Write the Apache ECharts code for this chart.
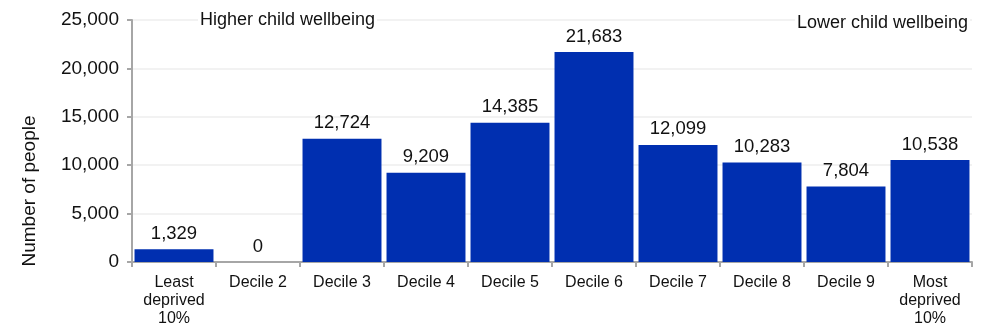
<!DOCTYPE html>
<html>
<head>
<meta charset="utf-8">
<script src="https://cdn.jsdelivr.net/npm/echarts@6/dist/echarts.min.js"></script>
<style>
  html, body { margin: 0; padding: 0; background: #fff; }
  #chart { width: 982px; height: 328px; }
</style>
</head>
<body>
<div id="chart"></div>
<script>
// deciles
const categories = ['Least\ndeprived\n10%', 'Decile 2', 'Decile 3', 'Decile 4', 'Decile 5',
                    'Decile 6', 'Decile 7', 'Decile 8', 'Decile 9', 'Most\ndeprived\n10%'];
const people = [1329, 0, 12724, 9209, 14385, 21683, 12099, 10283, 7804, 10538];
const yTicks = [0, 5000, 10000, 15000, 20000, 25000];

const font = 'Liberation Sans, Arial, sans-serif';
const chart = echarts.init(document.getElementById('chart'));

chart.setOption({
    animation: false,
    grid: { left: 132, right: 10, top: 20, bottom: 66, outerBoundsMode: 'none', containLabel: false },
    xAxis: {
        type: 'category',
        data: categories,
        axisLine: { lineStyle: { color: '#a6a6a6', width: 2 } },
        axisTick: { show: true, length: 5, lineStyle: { color: '#a6a6a6', width: 2 } },
        axisLabel: { color: '#111', fontFamily: font, fontSize: 16, lineHeight: 18, margin: 12, interval: 0 }
    },
    yAxis: {
        type: 'value',
        min: yTicks[0],
        max: yTicks[yTicks.length - 1],
        interval: 5000,
        axisLine: { show: true, lineStyle: { color: '#a6a6a6', width: 2 } },
        axisTick: { show: true, length: 5, lineStyle: { color: '#a6a6a6', width: 2 } },
        splitLine: { lineStyle: { color: '#eeeeee', width: 1.5 } },
        axisLabel: {
            color: '#111', fontFamily: font, fontSize: 19, margin: 13,
            formatter: v => v.toLocaleString('en-US')
        }
    },
    series: [{
        type: 'bar',
        data: people,
        barCategoryGap: '6%',
        itemStyle: { color: '#002fb0' },
        label: {
            show: true,
            position: 'top',
            distance: 6,
            color: '#111',
            fontFamily: font,
            fontSize: 18.5,
            formatter: p => p.value.toLocaleString('en-US')
        }
    }],
    graphic: [
        {
            type: 'text', x: 198, y: 20, z: 100,
            style: { text: 'Higher child wellbeing', fontFamily: font, fontSize: 18, fill: '#111',
                     verticalAlign: 'middle', backgroundColor: '#fff', padding: [0, 2] }
        },
        {
            type: 'text', x: 970, y: 23, z: 100,
            style: { text: 'Lower child wellbeing', fontFamily: font, fontSize: 18, fill: '#111',
                     align: 'right', verticalAlign: 'middle', backgroundColor: '#fff', padding: [0, 2] }
        },
        {
            type: 'text', x: 30, y: 191, rotation: Math.PI / 2,
            style: { text: 'Number of people', fontFamily: font, fontSize: 19, fill: '#111',
                     align: 'center', verticalAlign: 'middle' }
        }
    ]
});
</script>
</body>
</html>
